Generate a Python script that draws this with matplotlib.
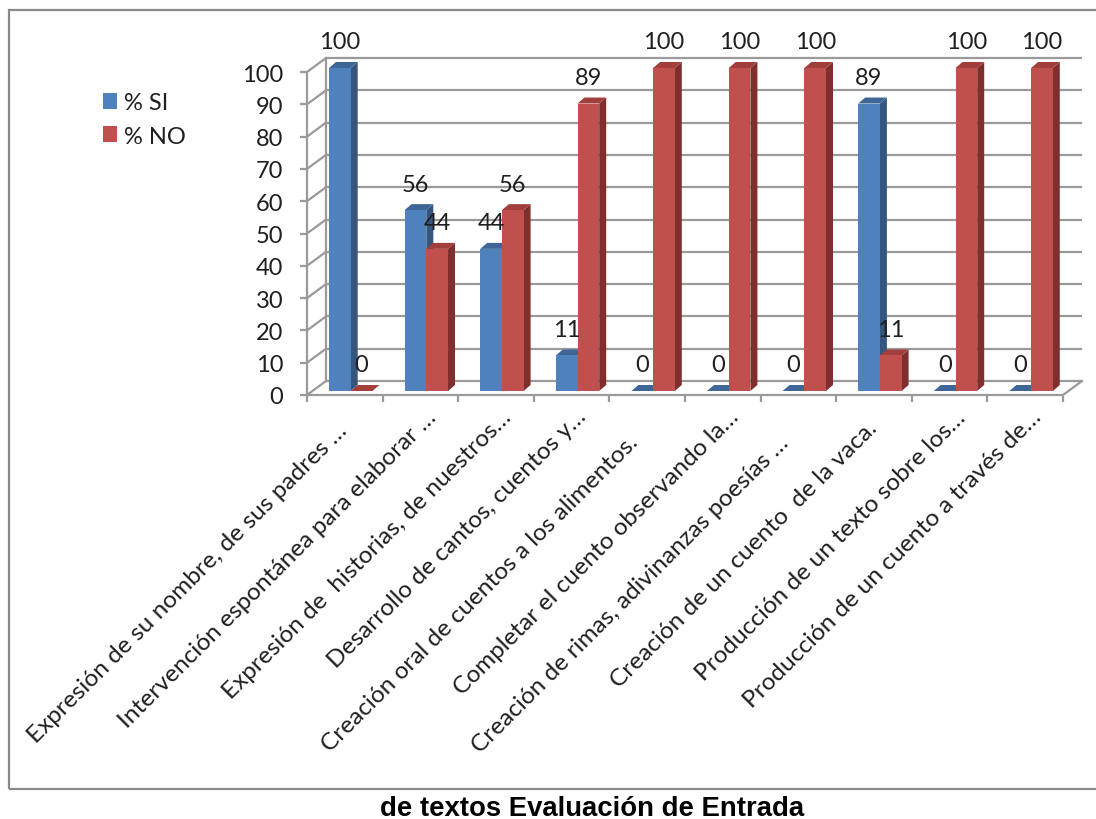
import matplotlib
matplotlib.use("Agg")
import matplotlib.pyplot as plt
from matplotlib.patches import Polygon, Rectangle
from matplotlib.transforms import Affine2D
import numpy as np

categories = [
    "Expresión de su nombre, de sus padres …",
    "Intervención espontánea para elaborar …",
    "Expresión de  historias, de nuestros…",
    "Desarrollo de cantos, cuentos y…",
    "Creación oral de cuentos a los alimentos.",
    "Completar el cuento observando la…",
    "Creación de rimas, adivinanzas poesías …",
    "Creación de un cuento  de la vaca.",
    "Producción de un texto sobre los…",
    "Producción de un cuento a través de…",
]
si_values = [100, 56, 44, 11, 0, 0, 0, 89, 0, 0]
no_values = [0, 44, 56, 89, 100, 100, 100, 11, 100, 100]
y_ticks = list(range(0, 101, 10))

W, H = 1096, 820
FONT = "Lato"
GRID = "#9a9a9a"
TEXT = "#1f1f1f"
BLUE = ("#4F81BD", "#3E6797", "#35577F")
RED = ("#C0504D", "#A23F3D", "#7F302E")

# per-label nudges of the rotated labels (pixels right, pixels down)
label_nudges = [(-21, 10), (-7, -3), (-8, -3), (-8, -4), (-32, 22),
                (-7, -3), (-33, 23), (-20, 8), (-7, -3), (-7, -3)]

fig = plt.figure(figsize=(W / 100, H / 100), dpi=100, facecolor="white")
fig.add_artist(Rectangle((9 / W, 1 - 790 / H), 1.2, (790 - 11) / H, transform=fig.transFigure,
                         fill=False, edgecolor="#8a8a8a", linewidth=1.6))

ax = fig.add_axes([307 / W, 1 - 396 / H, (1063 - 307) / W, (396 - 73) / H])
ax.set_xlim(0, 10)
ax.set_ylim(0, 100)
ax.patch.set_alpha(0)
for s in ("top", "right"):
    ax.spines[s].set_visible(False)
for s in ("left", "bottom"):
    ax.spines[s].set_color(GRID)
    ax.spines[s].set_linewidth(1.6)

# back wall and side wall
wall_dx = 19 / 75.6
wall_dy = 14 / 3.23
for v in y_ticks:
    ax.plot([wall_dx, 10 + wall_dx], [v + wall_dy, v + wall_dy], color=GRID, lw=1.6,
            clip_on=False, zorder=1, solid_capstyle="butt")
    ax.plot([0, wall_dx], [v, v + wall_dy], color=GRID, lw=1.6, clip_on=False, zorder=1)
ax.plot([wall_dx, wall_dx], [wall_dy, 100 + wall_dy], color=GRID, lw=1.6, clip_on=False, zorder=1)
ax.plot([10, 10 + wall_dx], [0, wall_dy], color=GRID, lw=1.6, clip_on=False, zorder=1)

# bars with depth
bar_tf = ax.transData + Affine2D().translate(0, 4)
bar_w = 21.7 / 75.6
bar_start = 22 / 75.6
depth_x = 7 / 75.6
depth_y = 6 / 3.23
x_pos = np.arange(len(categories))


def draw_series(xs, values, colors, z, label):
    for x, v in zip(xs, values):
        r = x + bar_w
        ax.add_patch(Polygon([(r, 0), (r + depth_x, depth_y), (r + depth_x, v + depth_y), (r, v)],
                             closed=True, facecolor=colors[2], edgecolor="none",
                             transform=bar_tf, clip_on=False, zorder=z))
        ax.add_patch(Polygon([(x, v), (x + depth_x, v + depth_y), (r + depth_x, v + depth_y), (r, v)],
                             closed=True, facecolor=colors[1], edgecolor="none",
                             transform=bar_tf, clip_on=False, zorder=z))
    ax.bar(xs, values, width=bar_w, align="edge", color=colors[0], transform=bar_tf,
           clip_on=False, zorder=z + 0.1, label=label)
    for x, v in zip(xs, values):
        ax.annotate(str(v), (x + bar_w / 2, v), xycoords=bar_tf, xytext=(0, 18.8),
                    textcoords="offset points", ha="center", va="center",
                    fontsize=17, family=FONT, color=TEXT, zorder=10, annotation_clip=False)


draw_series(x_pos + bar_start, si_values, BLUE, 3, "% SI")
draw_series(x_pos + bar_start + bar_w, no_values, RED, 4, "% NO")

# axes
ax.set_yticks(y_ticks)
ax.set_yticklabels([str(v) for v in y_ticks], fontsize=17, family=FONT, color=TEXT)
ax.tick_params(axis="y", length=5, width=1.6, color=GRID, pad=12)
ax.set_xticks(np.arange(0, 11))
ax.set_xticklabels([])
ax.tick_params(axis="x", which="major", length=5, width=1.6, color=GRID)
ax.set_xticks(x_pos + 0.5, minor=True)
ax.set_xticklabels(categories, minor=True, rotation=45, ha="right", rotation_mode="anchor",
                   fontsize=17.6, family=FONT, color=TEXT)
ax.tick_params(axis="x", which="minor", length=0, pad=10)
for lab, (nx, ny) in zip(ax.get_xticklabels(minor=True), label_nudges):
    lab.set_transform(lab.get_transform() + Affine2D().translate(12 + nx, -ny))

ax.legend(loc="upper left", bbox_to_anchor=(103 / W, 1 - 93 / H), bbox_transform=fig.transFigure,
          frameon=False, prop={"family": FONT, "size": 17}, labelcolor=TEXT,
          handlelength=0.6, handleheight=0.65, handletextpad=0.3, labelspacing=0.53,
          borderpad=0, borderaxespad=0)

fig.text(592 / W, 1 - 816 / H, "de textos Evaluación de Entrada", ha="center", va="baseline",
         fontsize=19.8, fontweight="bold", family="Liberation Sans", color="black")

fig.savefig("out.png", dpi=100)
